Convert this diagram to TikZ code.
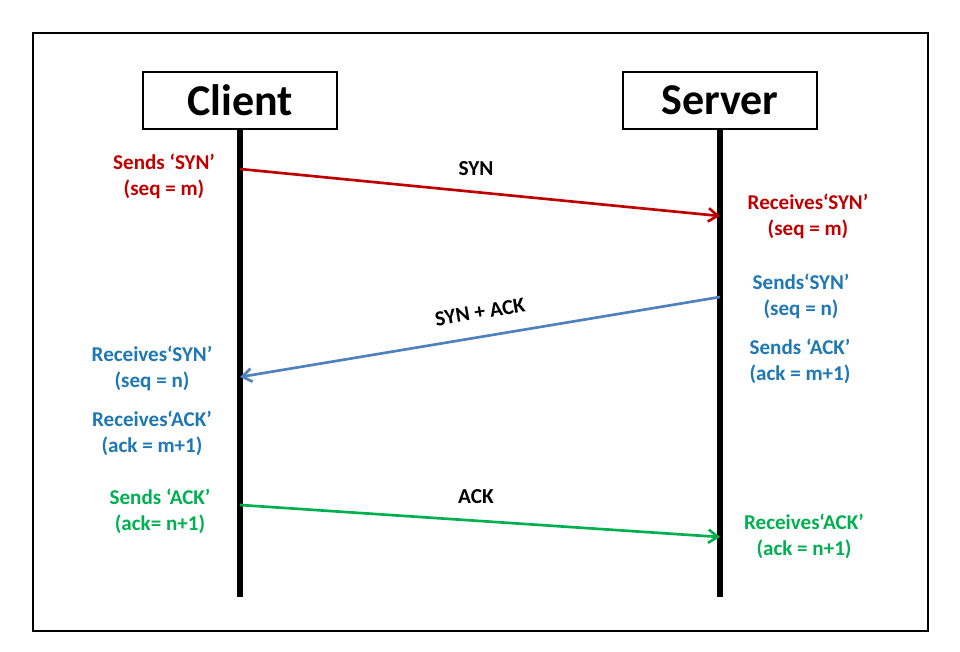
\documentclass[tikz,border=0pt]{standalone}
\usepackage{fontspec}
\setmainfont{Carlito}
\usetikzlibrary{arrows.meta}
\definecolor{synred}{HTML}{C00000}
\definecolor{txtblue}{HTML}{1F78B4}
\definecolor{arrblue}{HTML}{4F81BD}
\definecolor{ackgreen}{HTML}{00B050}
\tikzset{
  entity/.style={draw=black, line width=2.2pt, fill=white, minimum width=145.5pt, minimum height=42.75pt, inner sep=0pt, font=\fontsize{33}{36}\selectfont\bfseries},
  life/.style={line width=4pt, black},
  msg/.style={line width=2pt, -{Straight Barb[length=7pt,width=10pt,line width=2pt]}},
  lbl/.style={font=\fontsize{15.8}{19.5}\selectfont\bfseries, align=center, inner sep=0pt},
  mlbl/.style={font=\fontsize{16}{18}\selectfont\bfseries, inner sep=0pt}
}
\begin{document}
\begin{tikzpicture}[x=0.75pt,y=-0.75pt]
\useasboundingbox (0,0) rectangle (960,652);
\fill[white] (0,0) rectangle (960,652);
\node[draw=black, line width=0.9pt, minimum width=671.25pt, minimum height=448.5pt, inner sep=0pt] (frame) at (480.5,332) {};
\node[entity] (client) at (240,100.5) {Client};
\node[entity] (server) at (720,100.5) {Server};
\coordinate (cend) at (240,597);
\coordinate (send) at (720,597);
\draw[life] (client.south) -- (cend);
\draw[life] (server.south) -- (send);
% message points
\coordinate (c1) at (240,169);
\coordinate (s1) at (720,216);
\coordinate (s2) at (720,297);
\coordinate (c2) at (240,377);
\coordinate (c3) at (240,505);
\coordinate (s3) at (720,537);
\draw[msg, synred] (c1) -- (s1);
\draw[msg, arrblue] (s2) -- (c2);
\draw[msg, ackgreen] (c3) -- (s3);
\node[mlbl] (m1) at (476,169) {SYN};
\node[mlbl, rotate=9.5] (m2) at (480,312) {SYN + ACK};
\node[mlbl] (m3) at (476,497) {ACK};
% labels
\node[lbl, text=synred] (l1) at (164,176) {Sends ‘SYN’\\(seq = m)};
\node[lbl, text=synred] (r1) at (808,216) {Receives‘SYN’\\(seq = m)};
\node[lbl, text=txtblue] (r2) at (801,296) {Sends‘SYN’\\(seq = n)};
\node[lbl, text=txtblue] (r3) at (800,361) {Sends ‘ACK’\\(ack = m+1)};
\node[lbl, text=txtblue] (l2) at (152,368) {Receives‘SYN’\\(seq = n)};
\node[lbl, text=txtblue] (l3) at (152,433) {Receives‘ACK’\\(ack = m+1)};
\node[lbl, text=ackgreen] (l4) at (160,511) {Sends ‘ACK’\\(ack= n+1)};
\node[lbl, text=ackgreen] (r4) at (804,536) {Receives‘ACK’\\(ack = n+1)};
\end{tikzpicture}
\end{document}
